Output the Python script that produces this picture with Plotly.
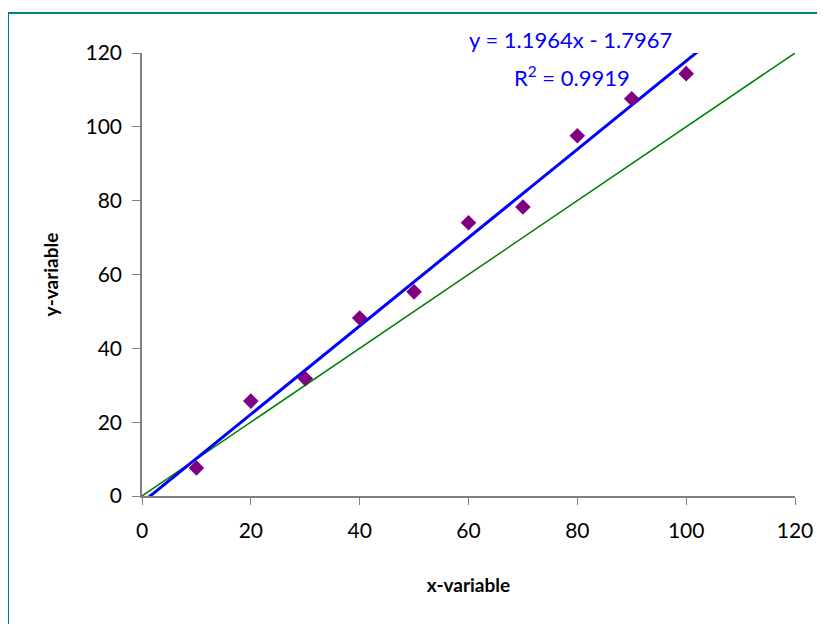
import numpy as np
import plotly.graph_objects as go

x_vals = [10, 20, 30, 40, 50, 60, 70, 80, 90, 100]
y_vals = [7.6, 25.7, 31.8, 48.2, 55.3, 74.0, 78.3, 97.6, 107.6, 114.4]
slope = 1.1964
intercept = -1.7967
r_squared = 0.9919
tick_vals = [0, 20, 40, 60, 80, 100, 120]

FONT = "Comic Sans MS, Lato, sans-serif"

# page body has an 8px offset; plot area in screen px: x 142..795, y 53..496
OFF = 8
L, R, T, B = 142 - OFF, 795 - OFF, 53 - OFF, 496 - OFF
W, H = 825, 624
PW, PH = R - L, B - T

trend_x = [0, 120]
trend_y = [slope * v + intercept for v in trend_x]

fig = go.Figure()
fig.add_trace(go.Scatter(x=[0, 120], y=[0, 120], mode="lines",
                         line=dict(color="#008000", width=1.5), showlegend=False))
fig.add_trace(go.Scatter(x=trend_x, y=trend_y, mode="lines",
                         line=dict(color="#0000FF", width=3), showlegend=False))
fig.add_trace(go.Scatter(x=x_vals, y=y_vals, mode="markers",
                         marker=dict(symbol="diamond", size=12, color="#800080"),
                         showlegend=False))

def px(sx):
    return (sx - OFF - L) / PW

def py(sy):
    return (B - (sy - OFF)) / PH

fig.update_layout(
    width=W, height=H,
    margin=dict(l=L, r=W - R, t=T, b=H - B),
    paper_bgcolor="white", plot_bgcolor="white",
    font=dict(family=FONT, color="black", size=21),
    xaxis=dict(range=[0, 120], tickvals=tick_vals, showgrid=False, zeroline=False,
               showline=True, linecolor="#808080", linewidth=1.5,
               ticks="outside", ticklen=7, tickcolor="#808080",
               ticklabelstandoff=8,
               title=dict(text="<b>x-variable</b>", font=dict(size=19), standoff=38)),
    yaxis=dict(range=[0, 120], tickvals=tick_vals, showgrid=False, zeroline=False,
               showline=True, linecolor="#808080", linewidth=1.5,
               ticks="outside", ticklen=8, tickcolor="#808080",
               ticklabelstandoff=6,
               title=dict(text="<b>y-variable</b>", font=dict(size=19), standoff=22)),
    shapes=[dict(type="rect", xref="paper", yref="paper",
                 x0=px(8), x1=1.2, y0=-0.4, y1=py(13),
                 line=dict(color="#008080", width=2), layer="below")],
    annotations=[
        dict(xref="paper", yref="paper", x=px(570), y=py(40), yanchor="middle",
             text=f"y = {slope}x - {abs(intercept)}", showarrow=False,
             font=dict(color="#0000FF", size=22, family=FONT)),
        dict(xref="paper", yref="paper", x=px(572), y=py(76), yanchor="middle",
             text=f"R<sup>2</sup> = {r_squared}", showarrow=False,
             font=dict(color="#0000FF", size=22, family=FONT)),
    ],
)

fig.write_html("out.html")
